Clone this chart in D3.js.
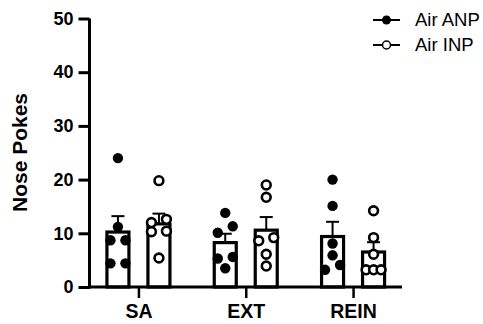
<!DOCTYPE html>
<html>
<head>
<meta charset="utf-8">
<script src="https://cdn.jsdelivr.net/npm/d3@7"></script>
<style>
  body { margin: 0; background: #fff; }
  svg { display: block; font-family: "Liberation Sans", Arial, sans-serif; }
</style>
</head>
<body>
<div id="chart"></div>
<script>
// phases along the x axis
const phases = ['SA', 'EXT', 'REIN'];
const groups = ['Air ANP', 'Air INP'];
const yTicks = [0, 10, 20, 30, 40, 50];

// individual animals
const anpSA = [24, 11.2, 8.7, 8.7, 4.4, 4.4];
const inpSA = [19.8, 12.6, 12.0, 10.4, 10.3, 5.4];
const anpEXT = [13.8, 11.3, 10.1, 5.6, 5.3, 3.5];
const inpEXT = [19.0, 16.7, 9.2, 8.6, 6.1, 3.9];
const anpREIN = [20.0, 15.1, 8.1, 5.9, 4.1, 3.2];
const inpREIN = [14.2, 9.2, 6.1, 3.2, 3.2, 3.2];

const anpValues = [anpSA, anpEXT, anpREIN];
const inpValues = [inpSA, inpEXT, inpREIN];

const width = 483, height = 324;
const svg = d3.select('#chart').append('svg')
    .attr('width', width)
    .attr('height', height);

const x = d3.scalePoint().domain(phases).range([89.5, 402]).padding(0.456);
const xSub = d3.scalePoint().domain(groups).range([-20.5, 20.5]);
const y = d3.scaleLinear().domain([0, 50]).range([287, 18.5]);

// mean / SEM for each bar
const table = [];
phases.forEach((p, i) => {
    [anpValues[i], inpValues[i]].forEach((vals, j) => {
        const mean = d3.mean(vals);
        const sem = d3.deviation(vals) / Math.sqrt(vals.length);
        table.push({ phase: p, group: groups[j], vals, mean, sem });
    });
});

// bars
svg.selectAll('.bar')
    .data(table)
    .enter().append('rect')
    .attr('class', 'bar')
    .attr('x', d => x(d.phase) + xSub(d.group) - 11)
    .attr('y', d => y(d.mean))
    .attr('width', 22)
    .attr('height', d => y(0) - y(d.mean))
    .style('fill', '#fff')
    .style('stroke', '#000')
    .style('stroke-width', 3.2);

// error bars (upper only)
const err = svg.selectAll('.err')
    .data(table)
    .enter().append('g')
    .attr('class', 'err')
    .attr('transform', d => `translate(${x(d.phase) + xSub(d.group)},0)`);
err.append('line')
    .attr('y1', d => y(d.mean))
    .attr('y2', d => y(d.mean + d.sem))
    .style('stroke', '#000').style('stroke-width', 2);
err.append('line')
    .attr('x1', -6.5).attr('x2', 6.5)
    .attr('y1', d => y(d.mean + d.sem))
    .attr('y2', d => y(d.mean + d.sem))
    .style('stroke', '#000').style('stroke-width', 2);

// spread points with similar values side by side
function spread(vals) {
    const sorted = vals.slice().sort((a, b) => b - a);
    const rows = [];
    sorted.forEach(v => {
        const last = rows[rows.length - 1];
        if (last && last[last.length - 1] - v < 1.3) last.push(v);
        else rows.push([v]);
    });
    const out = [];
    rows.forEach(r => {
        r.sort((a, b) => a - b);
        r.forEach((v, k) => {
            const dx = r.length > 1 ? -7.5 + 15 * k / (r.length - 1) : 0;
            out.push({ v, dx });
        });
    });
    return out;
}

table.forEach(d => {
    const filled = d.group === 'Air ANP';
    svg.selectAll(null)
        .data(spread(d.vals))
        .enter().append('circle')
        .attr('cx', p => x(d.phase) + xSub(d.group) + p.dx)
        .attr('cy', p => y(p.v))
        .attr('r', filled ? 5.2 : 4.4)
        .style('fill', filled ? '#000' : '#fff')
        .style('stroke', '#000')
        .style('stroke-width', filled ? 0 : 2.6);
});

// y axis
const yAxis = svg.append('g')
    .attr('transform', 'translate(89.5,0)')
    .call(d3.axisLeft(y).tickValues(yTicks).tickSize(11).tickPadding(5));
yAxis.select('.domain').remove();
yAxis.append('line')
    .attr('y1', y(50)).attr('y2', y(0) + 1.5)
    .style('stroke', '#000').style('stroke-width', 3);
yAxis.selectAll('.tick line').style('stroke-width', 3);
yAxis.selectAll('.tick text')
    .style('font-size', '18px').style('font-weight', 'bold')
    .style('font-family', '"Liberation Sans", Arial, sans-serif')
    .attr('fill', '#000');

// x axis
const xAxis = svg.append('g')
    .attr('transform', `translate(0,${y(0)})`)
    .call(d3.axisBottom(x).tickSize(11).tickPadding(6));
xAxis.select('.domain').remove();
xAxis.append('line')
    .attr('x1', 88).attr('x2', 402)
    .style('stroke', '#000').style('stroke-width', 3);
xAxis.selectAll('.tick line').style('stroke-width', 2.5);
xAxis.selectAll('.tick text')
    .style('font-size', '19.5px').style('font-weight', 'bold')
    .style('font-family', '"Liberation Sans", Arial, sans-serif')
    .attr('fill', '#000');

// y title
svg.append('text')
    .attr('transform', 'rotate(-90)')
    .attr('x', -152.5)
    .attr('y', 27)
    .attr('text-anchor', 'middle')
    .style('font-size', '21px')
    .style('font-weight', 'bold')
    .text('Nose Pokes');

// legend
const legend = svg.selectAll('.legend')
    .data(groups)
    .enter().append('g')
    .attr('class', 'legend')
    .attr('transform', (d, i) => `translate(373,${20 + i * 25})`);
legend.append('line')
    .attr('x1', 0).attr('x2', 27)
    .style('stroke', '#000').style('stroke-width', 2);
legend.append('circle')
    .attr('cx', 13.5)
    .attr('r', (d, i) => i === 0 ? 4.5 : 4)
    .style('fill', (d, i) => i === 0 ? '#000' : '#fff')
    .style('stroke', '#000')
    .style('stroke-width', (d, i) => i === 0 ? 0 : 1.5);
legend.append('text')
    .attr('x', 42)
    .attr('dy', '0.35em')
    .style('font-size', '18.5px')
    .text(d => d);
</script>
</body>
</html>
